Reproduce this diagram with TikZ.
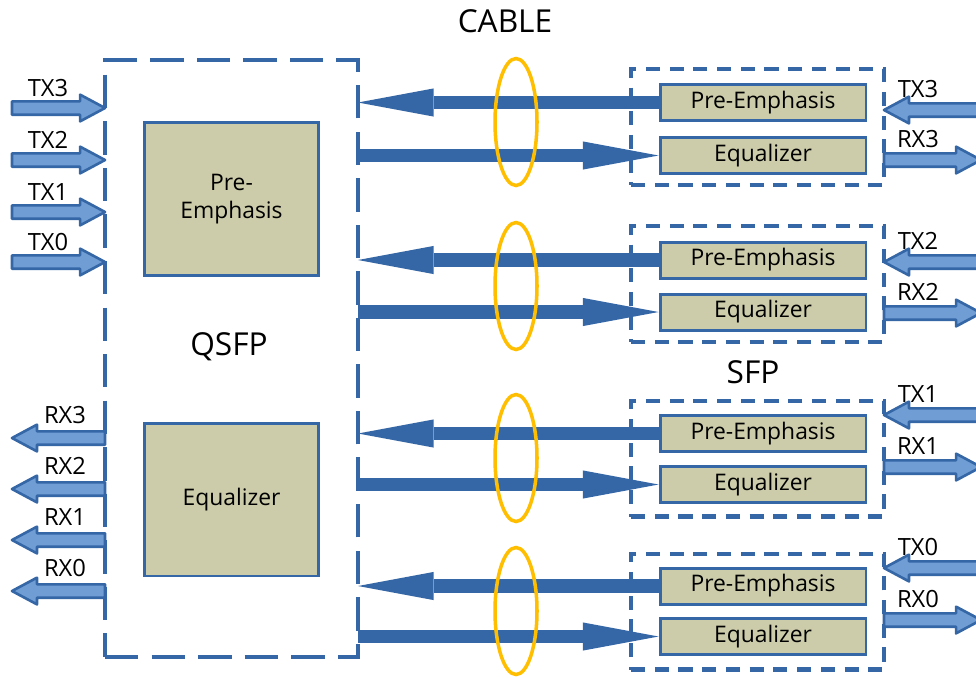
\documentclass[tikz,border=0pt]{standalone}
\usepackage{fontspec}
\setmainfont{Open Sans}
\usetikzlibrary{arrows.meta,calc}

\definecolor{linkblue}{RGB}{53,103,166}
\definecolor{sigfill}{RGB}{112,157,212}
\definecolor{blockfill}{RGB}{204,204,170}
\definecolor{cableorange}{RGB}{255,190,0}

\tikzset{
  qframe/.style={draw=linkblue, line width=2.3pt, dash pattern=on 19pt off 7.5pt,
    minimum width=5.06cm, minimum height=11.94cm, outer sep=0pt},
  sframe/.style={draw=linkblue, line width=2.3pt, dash pattern=on 8pt off 5.5pt,
    minimum width=5.06cm, minimum height=2.32cm, outer sep=0pt},
  bigblock/.style={draw=linkblue, fill=blockfill, line width=1.7pt, minimum width=3.5cm,
    minimum height=3.06cm, align=center, font=\fontsize{13}{16}\selectfont},
  smallblock/.style={draw=linkblue, fill=blockfill, line width=1.7pt, minimum width=4.12cm,
    minimum height=0.72cm, inner sep=0pt, font=\fontsize{13}{16}\selectfont},
  biglink/.style={draw=linkblue, line width=7.9pt,
    -{Triangle[length=43pt,width=16pt,line width=0pt]}},
  sigarrow/.style={draw=linkblue, fill=sigfill, line width=1.5pt, line join=round},
  cable/.style={draw=cableorange, line width=2pt},
  siglabel/.style={font=\fontsize{13.5}{16}\selectfont, inner sep=0pt},
  title/.style={font=\fontsize{18}{22}\selectfont, inner sep=0pt}
}

% hollow signal arrow: #1 = tail, #2 = tip
\newcommand{\hollowarrow}[2]{%
  \coordinate (hs) at (#1);
  \coordinate (ht) at (#2);
  \coordinate (hb) at ($(ht)!14.2pt!(hs)$);
  \draw[sigarrow] ([yshift=3.8pt]hs) -- ([yshift=3.8pt]hb) -- ([yshift=7.6pt]hb) -- (ht)
    -- ([yshift=-7.6pt]hb) -- ([yshift=-3.8pt]hb) -- ([yshift=-3.8pt]hs) -- cycle;}

\begin{document}
\begin{tikzpicture}[x=0.02cm, y=-0.02cm]
    \useasboundingbox (0,0) rectangle (976,677);
    \clip (0,0) rectangle (976,677);

    \node[title] (cable) at (505,21) {CABLE};

    % QSFP side
    \node[qframe] (qsfp) at (231.5,358.5) {};
    \node[bigblock] (qpre) at (231.5,199) {Pre-\\Emphasis};
    \node[bigblock] (qeq) at (231.5,499.5) {Equalizer};
    \node[title] (qname) at (229,347) {QSFP};

    \foreach \k/\ty in {3/108, 2/160, 1/212, 0/262} {
        \coordinate (qtx\k) at (12,\ty);
        \hollowarrow{qtx\k}{qsfp.west |- qtx\k}
        \node[siglabel] (ltx\k) at (48,\ty-20) {TX\k};
    }
    \foreach \k/\ry in {3/438, 2/489, 1/540, 0/591} {
        \coordinate (qrx\k) at (12,\ry);
        \hollowarrow{qsfp.west |- qrx\k}{qrx\k}
        \node[siglabel] (lrx\k) at (65,\ry-23) {RX\k};
    }

    % SFP side
    \node[title] (sname) at (753,372) {SFP};
    \foreach \n/\bc/\pe/\eq/\tx/\rx/\ey in {3/127/102.5/155.5/110/160/122,
            2/284/260/312/262/313/286, 1/458.5/433.5/484.5/415/467/458,
            0/611.5/586/636.5/568/620/611} {
        \node[sframe] (sfp\n) at (757.5,\bc) {};
        \node[smallblock] (pe\n) at (763,\pe) {Pre-Emphasis};
        \node[smallblock] (eq\n) at (763,\eq) {Equalizer};
        \draw[biglink] (pe\n.west) -- (pe\n.west -| qsfp.east);
        \draw[biglink] (eq\n.west -| qsfp.east) -- (eq\n.west);
        \draw[cable] (516,\ey) ellipse [x radius=0.42cm, y radius=1.27cm];
        \coordinate (stx\n) at (995,\tx);
        \coordinate (srx\n) at (981,\rx);
        \hollowarrow{stx\n}{sfp\n.east |- stx\n}
        \hollowarrow{sfp\n.east |- srx\n}{srx\n}
        \node[siglabel] (rtx\n) at (918,\tx-21) {TX\n};
        \node[siglabel] (rrx\n) at (918,\rx-21) {RX\n};
    }
\end{tikzpicture}
\end{document}
